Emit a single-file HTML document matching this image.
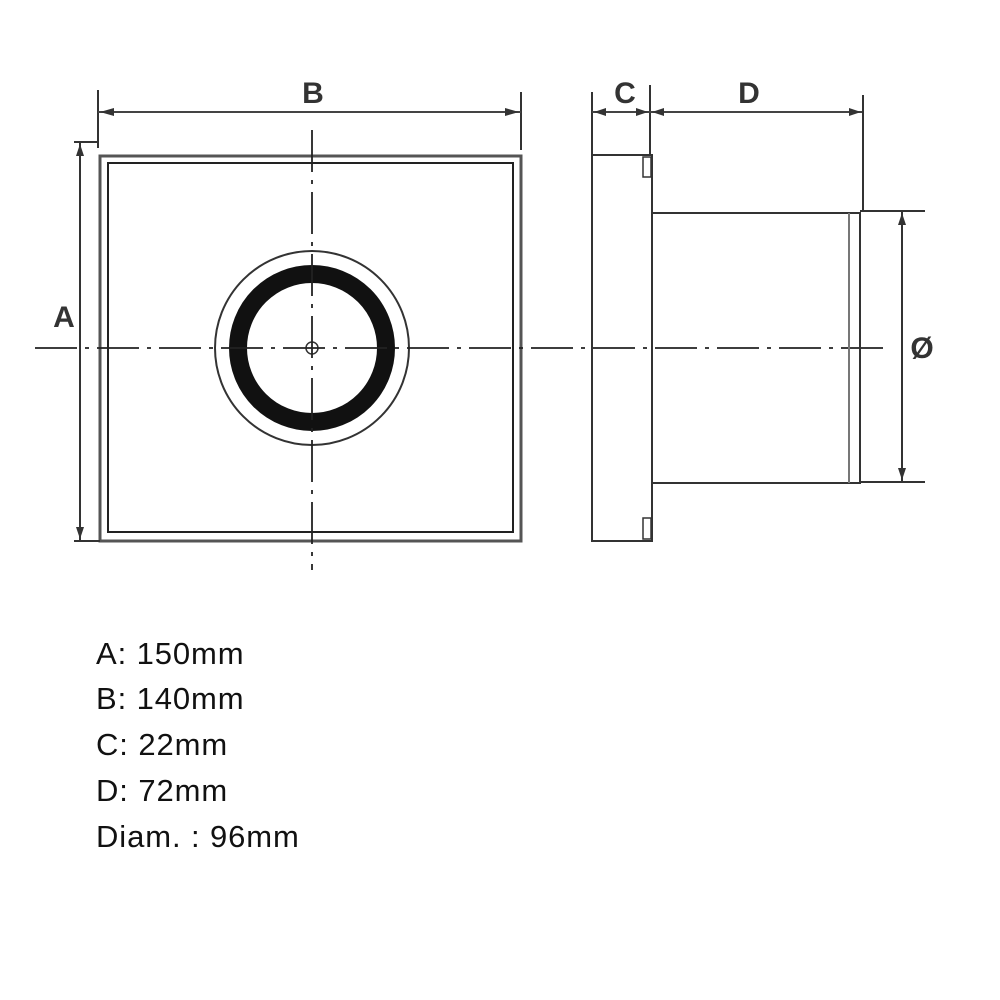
<!DOCTYPE html>
<html><head><style>
body{margin:0;background:#fff;width:1000px;height:1000px;overflow:hidden}
svg{position:absolute;left:0;top:0}
.t{position:absolute;left:96px;font-family:"Liberation Sans",sans-serif;font-size:31px;letter-spacing:0.9px;color:#111}
</style></head><body>
<svg width="1000" height="1000" viewBox="0 0 1000 1000">
<g fill="none" stroke="#333" stroke-width="2">
<rect x="100" y="156" width="421" height="385" stroke-width="3" stroke="#555"/>
<rect x="108" y="163" width="405" height="369" stroke-width="2" stroke="#222"/>
<circle cx="312" cy="348" r="97" stroke="#333" stroke-width="2"/>
<circle cx="312" cy="348" r="74" stroke="#111" stroke-width="18"/>
<circle cx="312" cy="348" r="6" stroke="#333" stroke-width="1.5"/>
<line x1="35" y1="348" x2="890" y2="348" stroke="#222" stroke-width="1.8" stroke-dasharray="42,8,4,8"/>
<line x1="312" y1="130" x2="312" y2="570" stroke="#222" stroke-width="1.8" stroke-dasharray="42,8,4,8"/>
<line x1="98" y1="90" x2="98" y2="148"/>
<line x1="521" y1="92" x2="521" y2="150"/>
<line x1="98" y1="112" x2="521" y2="112" stroke="#444"/>
<line x1="74" y1="142" x2="98" y2="142"/>
<line x1="80" y1="142" x2="80" y2="541"/>
<line x1="74" y1="541" x2="100" y2="541"/>
<polyline points="592,92 592,541 652,541 652,155 592,155" stroke="#333"/>
<rect x="643" y="157" width="8" height="20" stroke-width="1.5"/>
<rect x="643" y="518" width="8" height="21" stroke-width="1.5"/>
<rect x="652" y="213" width="208" height="270" stroke="#333"/>
<line x1="849" y1="213" x2="849" y2="483" stroke="#777" stroke-width="2"/>
<line x1="650" y1="85" x2="650" y2="155"/>
<line x1="592" y1="112" x2="863" y2="112" stroke="#444"/>
<line x1="863" y1="95" x2="863" y2="212"/>
<line x1="860" y1="211" x2="925" y2="211"/>
<line x1="860" y1="482" x2="925" y2="482"/>
<line x1="902" y1="211" x2="902" y2="482"/>
</g>
<g fill="#333">
<polygon points="100,112 114,108 114,116"/><polygon points="519,112 505,108 505,116"/>
<polygon points="594,112 606,108 606,116"/><polygon points="648,112 636,108 636,116"/>
<polygon points="652,112 664,108 664,116"/><polygon points="861,112 849,108 849,116"/>
<polygon points="80,144 76,156 84,156"/><polygon points="80,539 76,527 84,527"/>
<polygon points="902,213 898,225 906,225"/><polygon points="902,480 898,468 906,468"/>
</g>
<g font-family="Liberation Sans,sans-serif" font-weight="bold" font-size="30" fill="#333" text-anchor="middle">
<text x="313" y="103">B</text>
<text x="625" y="103">C</text>
<text x="749" y="103">D</text>
<text x="64" y="327">A</text>
<text x="922" y="358">Ø</text>
</g>
</svg>
<div class="t" style="top:636px">A: 150mm</div>
<div class="t" style="top:681px">B: 140mm</div>
<div class="t" style="top:727px">C: 22mm</div>
<div class="t" style="top:773px">D: 72mm</div>
<div class="t" style="top:819px">Diam. : 96mm</div>
</body></html>
